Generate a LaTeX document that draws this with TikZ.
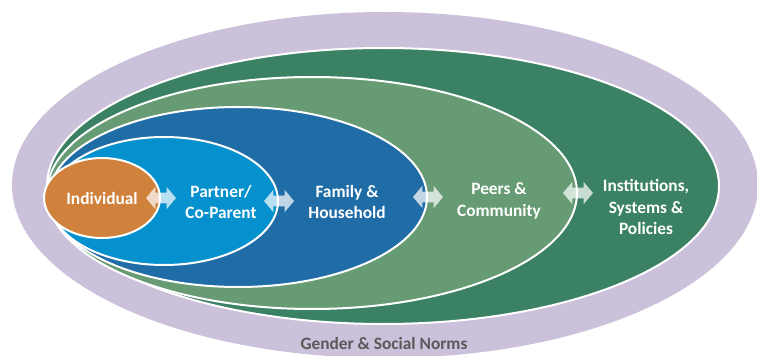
\documentclass[tikz,border=0pt]{standalone}
\usepackage{fontspec}
\setmainfont{Carlito}
\usetikzlibrary{shapes.geometric,shapes.arrows}

\definecolor{normsPurple}{HTML}{CBC1DB}
\definecolor{instGreen}{HTML}{3B8264}
\definecolor{peerGreen}{HTML}{679B73}
\definecolor{famBlue}{HTML}{1F6CA7}
\definecolor{partBlue}{HTML}{0590CE}
\definecolor{indOrange}{HTML}{D0813C}
\definecolor{normsText}{HTML}{595959}

\begin{document}
\begin{tikzpicture}
    [ x=0.75pt, y=-0.75pt
    , ring/.style={ellipse, draw=white, line width=1.5pt, inner sep=0pt}
    , lbl/.style={text=white, align=center, font=\fontsize{13}{16}\selectfont\bfseries}
    , biarrow/.style={double arrow, fill=white, fill opacity=0.72, draw=none,
        inner sep=3.75pt, minimum height=22.5pt, double arrow head extend=4.5pt,
        double arrow tip angle=100}
    ]
\useasboundingbox (0,0) rectangle (757,356);

% rings, outside in
\node[ellipse, fill=normsPurple, inner sep=0pt, minimum width=559.5pt, minimum height=259.5pt]
    (norms) at (385,185) {};
\node[ring, fill=instGreen, minimum width=504pt, minimum height=207pt] (inst) at (383,186) {};
\node[ring, fill=peerGreen, minimum width=397.5pt, minimum height=174pt] (peers) at (312,193) {};
\node[ring, fill=famBlue, minimum width=283.5pt, minimum height=135pt] (family) at (238,197) {};
\node[ring, fill=partBlue, minimum width=171pt, minimum height=96pt] (partner) at (164,201) {};
\node[ring, fill=indOrange, minimum width=87pt, minimum height=60pt] (indiv) at (102,198) {};

% arrows on the borders
\node[biarrow] (a1) at (indiv.east) {};
\node[biarrow] (a2) at (partner.east) {};
\node[biarrow] (a3) at (family.east) {};
\node[biarrow] (a4) at (peers.east) {};

% labels
\node[lbl] (tIndiv) at (102,198) {Individual};
\node[lbl] (tPartner) at (221,202) {Partner/\\Co-Parent};
\node[lbl] (tFamily) at (347,202) {Family \&\\Household};
\node[lbl] (tPeers) at (499,201) {Peers \&\\Community};
\node[lbl] (tInst) at (646,207) {Institutions,\\Systems \&\\Policies};
\node[lbl, text=normsText] (tNorms) at (384,343) {Gender \& Social Norms};

\end{tikzpicture}
\end{document}
